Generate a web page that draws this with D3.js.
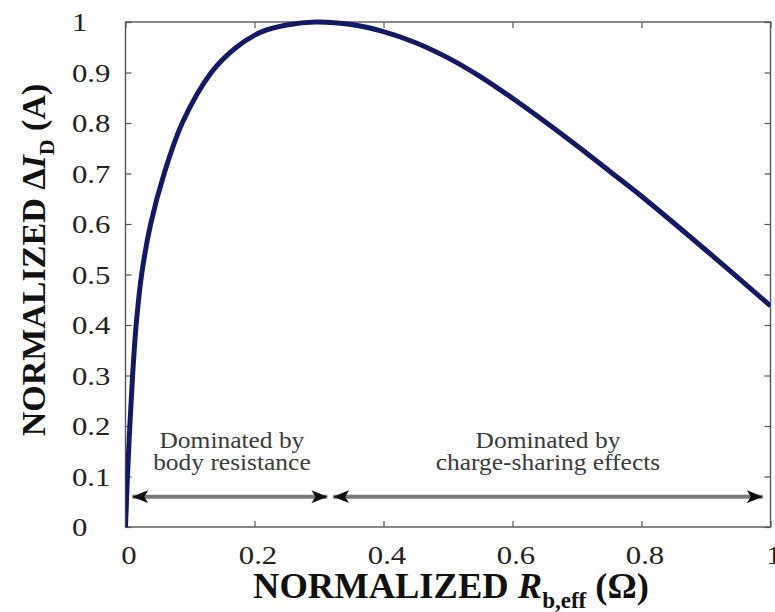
<!DOCTYPE html>
<html>
<head>
<meta charset="utf-8">
<script src="https://cdn.jsdelivr.net/npm/d3@7"></script>
<style>
  body { margin: 0; background: #fff; }
  svg { display: block; }
  text { font-family: "Liberation Serif", "Times New Roman", "DejaVu Serif", serif; }
</style>
</head>
<body>
<svg id="chart" width="775" height="612"></svg>
<script>
// Normalized body resistance vs normalized drain-current change
const rEff    = [0, 0.003, 0.0067, 0.011, 0.0165, 0.025, 0.039, 0.06, 0.088, 0.133, 0.172, 0.21, 0.25, 0.295, 0.35, 0.4, 0.45, 0.5, 0.55, 0.6, 0.65, 0.7, 0.75, 0.8, 0.9, 1.0];
const deltaId = [0, 0.1, 0.2, 0.3, 0.4, 0.5, 0.6, 0.7, 0.8, 0.9, 0.95, 0.98, 0.994, 1.0, 0.995, 0.981, 0.959, 0.929, 0.892, 0.849, 0.803, 0.755, 0.705, 0.655, 0.548, 0.438];

const xTicks = [0, 0.2, 0.4, 0.6, 0.8, 1];
const xTickLabels = ["0", "0.2", "0.4", "0.6", "0.8", "1"];
const yTicks = [0, 0.1, 0.2, 0.3, 0.4, 0.5, 0.6, 0.7, 0.8, 0.9, 1];
const yTickLabels = ["0", "0.1", "0.2", "0.3", "0.4", "0.5", "0.6", "0.7", "0.8", "0.9", "1"];

// Annotated regimes: arrow extent and two-line caption
const regionStart = [0.0105, 0.322];
const regionEnd   = [0.313, 0.988];
const regionCenter = [0.165, 0.655];
const regionLine1 = ["Dominated by", "Dominated by"];
const regionLine2 = ["body resistance", "charge-sharing effects"];
const arrowLevel = 0.06;
const captionLevels = [0.157, 0.112];

const svg = d3.select("#chart");
const x = d3.scaleLinear().domain([0, 1]).range([125.5, 770.5]);
const y = d3.scaleLinear().domain([0, 1]).range([527, 22]);

// widen glyphs of a text selection by factor k
function widen(sel, k) {
  sel.each(function () {
    const w = this.getComputedTextLength();
    d3.select(this).attr("textLength", w * k).attr("lengthAdjust", "spacingAndGlyphs");
  });
}

const defs = svg.append("defs");
defs.append("clipPath").attr("id", "plotClip")
  .append("rect")
  .attr("x", x(0)).attr("y", y(1) - 4)
  .attr("width", x(1) - x(0)).attr("height", y(0) - y(1) + 4);

defs.append("marker")
  .attr("id", "head")
  .attr("viewBox", "0 -7 17 14")
  .attr("refX", 16).attr("refY", 0)
  .attr("markerWidth", 17).attr("markerHeight", 14)
  .attr("markerUnits", "userSpaceOnUse")
  .attr("orient", "auto-start-reverse")
  .append("path")
  .attr("d", "M0,-6.5L16,0L0,6.5L4,0Z")
  .attr("fill", "#111");

// Axes with inward ticks on all four sides
const tickLen = 6;
const axisColor = "#555";

const gx = svg.append("g").attr("transform", `translate(0,${y(0)})`)
  .call(d3.axisBottom(x).tickValues(xTicks).tickSize(-tickLen).tickPadding(18)
    .tickFormat((d, i) => xTickLabels[i]));
const gy = svg.append("g").attr("transform", `translate(${x(0)},0)`)
  .call(d3.axisLeft(y).tickValues(yTicks).tickSize(-tickLen)
    .tickFormat((d, i) => yTickLabels[i]));
const gt = svg.append("g").attr("transform", `translate(0,${y(1)})`)
  .call(d3.axisTop(x).tickValues(xTicks).tickSize(-tickLen).tickFormat(""));
const gr = svg.append("g").attr("transform", `translate(${x(1)},0)`)
  .call(d3.axisRight(y).tickValues(yTicks).tickSize(-tickLen).tickFormat(""));

[gx, gy, gt, gr].forEach(g => {
  g.select(".domain").remove();
  g.selectAll(".tick line").attr("stroke", axisColor).attr("stroke-width", 1.2);
  g.selectAll(".tick text")
    .attr("font-family", "'Liberation Serif', 'Times New Roman', serif")
    .attr("font-size", 25)
    .attr("fill", "#222");
});
gx.selectAll(".tick text").attr("x", 3).attr("dy", "0.75em");
gy.selectAll(".tick text")
  .attr("x", 72 - x(0))
  .attr("text-anchor", "start")
  .attr("dy", "0.34em");
widen(gx.selectAll(".tick text"), 1.23);
widen(gy.selectAll(".tick text"), 1.23);

svg.append("rect")
  .attr("x", x(0)).attr("y", y(1))
  .attr("width", x(1) - x(0)).attr("height", y(0) - y(1))
  .attr("fill", "none").attr("stroke", axisColor).attr("stroke-width", 1.4);

// Region arrows and captions
const regions = d3.range(regionStart.length);
svg.append("g").selectAll("line").data(regions).join("line")
  .attr("x1", i => x(regionStart[i])).attr("x2", i => x(regionEnd[i]))
  .attr("y1", y(arrowLevel)).attr("y2", y(arrowLevel))
  .attr("stroke", "#7a7a7a").attr("stroke-width", 4)
  .attr("marker-start", "url(#head)").attr("marker-end", "url(#head)");

const cap = svg.append("g").attr("fill", "#3a3a3a").attr("font-size", 24).attr("text-anchor", "middle");
cap.selectAll("text.l1").data(regions).join("text").attr("class", "l1")
  .attr("x", i => x(regionCenter[i])).attr("y", y(captionLevels[0]))
  .text(i => regionLine1[i]);
cap.selectAll("text.l2").data(regions).join("text").attr("class", "l2")
  .attr("x", i => x(regionCenter[i])).attr("y", y(captionLevels[1]))
  .text(i => regionLine2[i]);
widen(cap.selectAll("text"), 1.06);

// Curve
const line = d3.line().x((d, i) => x(rEff[i])).y(d => y(d)).curve(d3.curveCatmullRom.alpha(0.5));
svg.append("path")
  .datum(deltaId)
  .attr("clip-path", "url(#plotClip)")
  .attr("d", line)
  .attr("fill", "none")
  .attr("stroke", "#111a62")
  .attr("stroke-width", 5)
  .attr("stroke-linejoin", "round");

// Axis titles
const xt = svg.append("text")
  .attr("x", (x(0) + x(1)) / 2 + 3).attr("y", 598)
  .attr("text-anchor", "middle").attr("font-weight", "bold").attr("font-size", 36.5).attr("fill", "#111");
xt.append("tspan").text("NORMALIZED ");
xt.append("tspan").attr("font-style", "italic").text("R");
xt.append("tspan").attr("font-size", 23).attr("dy", 10).text("b,eff");
xt.append("tspan").attr("dy", -10).text(" (Ω)");

const yt = svg.append("text")
  .attr("transform", `translate(45,260) rotate(-90)`)
  .attr("text-anchor", "middle").attr("font-weight", "bold").attr("font-size", 34).attr("fill", "#111");
yt.append("tspan").text("NORMALIZED Δ");
yt.append("tspan").attr("font-style", "italic").text("I");
yt.append("tspan").attr("font-size", 22).attr("dy", 9).text("D");
yt.append("tspan").attr("dy", -9).text(" (A)");
</script>
</body>
</html>
